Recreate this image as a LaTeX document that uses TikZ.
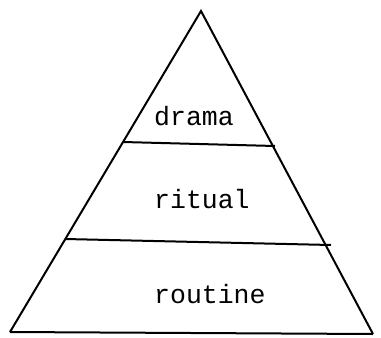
\documentclass[tikz,border=0pt]{standalone}
\usepackage{fontspec}
\setmonofont{Liberation Mono}
\begin{document}
\begin{tikzpicture}[x=1pt,y=-1pt,
  edge/.style={line width=2pt,line join=miter,black},
  lbl/.style={anchor=base west,inner sep=0pt,font=\ttfamily\fontsize{26.5}{26.5}\selectfont}]
\useasboundingbox (0,0) rectangle (381,338);
\coordinate (apex) at (201,11);
\coordinate (bl) at (10,332);
\coordinate (br) at (373,334);
\coordinate (d1) at (123,142);
\coordinate (d2) at (275,146);
\coordinate (r1) at (65,239);
\coordinate (r2) at (331,245);
\draw[edge] (bl) -- (apex) -- (br);
\draw[edge] (bl) -- (br);
\draw[edge] (d1) -- (d2);
\draw[edge] (r1) -- (r2);
\node[lbl] (drama) at (154,125) {drama};
\node[lbl] (ritual) at (154,208) {ritual};
\node[lbl] (routine) at (154,303) {routine};
\end{tikzpicture}
\end{document}
